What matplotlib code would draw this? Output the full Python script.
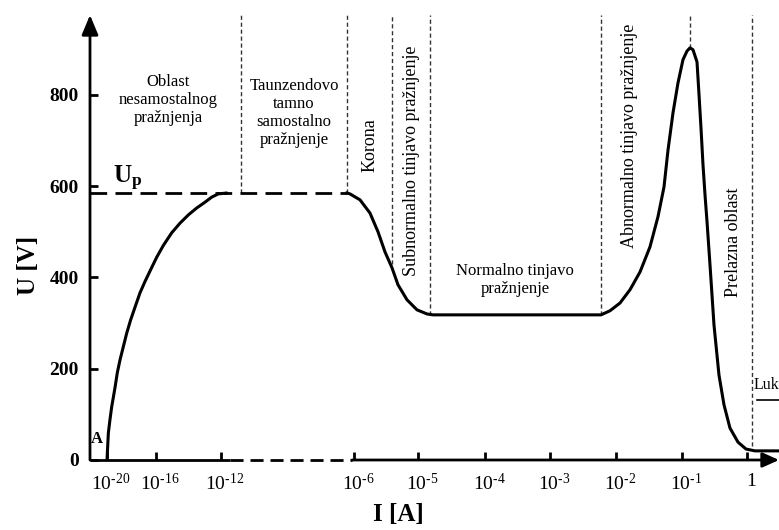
import numpy as np
import matplotlib
matplotlib.use("Agg")
import matplotlib.pyplot as plt
from matplotlib.transforms import ScaledTranslation

plt.rcParams['font.family'] = ['Liberation Serif', 'DejaVu Serif']
plt.rcParams['mathtext.fontset'] = 'custom'
plt.rcParams['mathtext.rm'] = 'Liberation Serif'
plt.rcParams['mathtext.it'] = 'Liberation Serif:italic'
plt.rcParams['mathtext.bf'] = 'Liberation Serif:bold'

# ---------------- data (x = log10 of current I [A], y = voltage U [V]) ----------------
rise_logI = [-20, -19.89, -19.76, -19.62, -19.35, -19.16, -18.94, -18.67, -18.39, -18.07,
             -17.71, -17.31, -16.90, -16.49, -15.96, -15.55, -15.03, -14.52, -14.01,
             -13.50, -12.98, -12.57, -12.17, -11.74]
rise_U = [0, 59, 88, 116, 158, 191, 219, 248, 278, 307,
          335, 366, 391, 414, 444, 470, 498, 519, 537,
          552, 565, 576, 583, 585]

glow_logI = [-6.32, -6.18, -5.906, -5.75, -5.625, -5.516, -5.406, -5.313, -5.172, -5.016,
             -4.866, -4.776, -3.5, -2.227, -2.091, -1.939, -1.788, -1.636, -1.485, -1.364,
             -1.273, -1.212, -1.136, -1.061, -0.985, -0.923, -0.877, -0.831, -0.769, -0.738,
             -0.708, -0.677, -0.646, -0.615, -0.569, -0.508, -0.431, -0.354, -0.262, -0.138,
             -0.015, 0.123, 0.492]
glow_U = [585, 583, 570, 541, 500, 456, 421, 384, 351, 329,
          320, 318, 318, 318, 327, 344, 373, 412, 467, 533,
          598, 679, 761, 826, 877, 896, 903, 899, 872, 800,
          728, 647, 581, 522, 427, 296, 186, 121, 70, 39,
          24, 20, 20]

U_p = 585
U_p_end_logI = -6.32

boundary_logI = [-11.10, -6.32, -5.41, -4.82, -2.23, -0.877, 0.077]
boundary_U = [585, 585, 430, 318, 318, 903, 30]

xtick_exp = [-20, -16, -12, -6, -5, -4, -3, -2, -1, 0]
xtick_labels = [r'$\mathregular{10}^{\text{-20}}$', r'$\mathregular{10}^{\text{-16}}$',
                r'$\mathregular{10}^{\text{-12}}$', r'$\mathregular{10}^{\text{-6}}$',
                r'$\mathregular{10}^{\text{-5}}$', r'$\mathregular{10}^{\text{-4}}$',
                r'$\mathregular{10}^{\text{-3}}$', r'$\mathregular{10}^{\text{-2}}$',
                r'$\mathregular{10}^{\text{-1}}$', '1']
yticks = [0, 200, 400, 600, 800]

# non-uniform (broken) current axis: knots of log10(I) -> relative axis position
KNOT_LOG = [-30, -20, -16, -12, -6, -5, -4, -3, -2, -1, 0, 5]
KNOT_POS = [-15.5, 107, 156, 221, 354, 418, 485, 550, 616, 682, 747, 1072]

def fwd(x):
    return np.interp(x, KNOT_LOG, KNOT_POS)

def inv(p):
    return np.interp(p, KNOT_POS, KNOT_LOG)

W, H = 779, 530
fig = plt.figure(figsize=(W / 100, H / 100), dpi=100)
ax = fig.add_axes([90 / W, 70 / H, 689 / W, 445 / H])
ax.set_xscale('function', functions=(fwd, inv))
xmin, xmax = float(inv(90)), float(inv(779))
ax.set_xlim(xmin, xmax)
ax.set_ylim(0, 975)

for s in ax.spines.values():
    s.set_visible(False)

# region boundaries
ax.vlines(boundary_logI, boundary_U, 975, colors='#333333', lw=1.0,
          linestyles=(0, (3, 2)), zorder=1)

# U_p dashed line
ax.plot([xmin, U_p_end_logI], [U_p, U_p], color='black', lw=2.0,
        ls=(0, (6, 3)), zorder=3, clip_on=False)

# curve
ax.plot(rise_logI, rise_U, color='black', lw=2.2, zorder=4, solid_capstyle='round',
        solid_joinstyle='round')
ax.plot(glow_logI, glow_U, color='black', lw=2.2, zorder=4, solid_joinstyle='round',
        clip_on=False)

# axes lines
ax.annotate('', xy=(0, 1), xycoords='axes fraction', xytext=(0, 0), textcoords='axes fraction',
            arrowprops=dict(arrowstyle='-|>,head_length=1.2,head_width=0.5', color='black',
                            lw=2, shrinkA=0, shrinkB=0), annotation_clip=False)
ax.plot([xmin, -11.6], [0, 0], color='black', lw=2, clip_on=False, solid_capstyle='butt', zorder=5)
ax.plot([-11.6, -6.09], [0, 0], color='black', lw=2, ls=(0, (4.7, 2.5)), clip_on=False, zorder=5)
ax.annotate('', xy=(1, 0), xycoords='axes fraction', xytext=(-6.09, 0), textcoords='data',
            arrowprops=dict(arrowstyle='-|>,head_length=1.0,head_width=0.45', color='black',
                            lw=2, shrinkA=0, shrinkB=0), annotation_clip=False)

# ticks
ax.set_xticks(xtick_exp)
ax.set_xticklabels(xtick_labels)
ax.set_yticks(yticks)
ax.set_yticklabels([str(v) for v in yticks])
ax.tick_params(axis='both', direction='in', width=2, length=6, color='black')
ax.tick_params(axis='x', labelsize=14, pad=9)
ax.tick_params(axis='y', labelsize=14, pad=8)
for lab in ax.get_yticklabels():
    lab.set_fontweight('bold')
off = ScaledTranslation(4 / 100, 0, fig.dpi_scale_trans)
for lab in ax.get_xticklabels():
    lab.set_transform(lab.get_transform() + off)

def P(x, y):
    return x / W, 1 - y / H

kw = dict(ha='center', va='center', color='black')
fig.text(*P(168, 100), 'Oblast\nnesamostalnog\npražnjenja', fontsize=12, linespacing=1.15, **kw)
fig.text(*P(294, 113), 'Taunzendovo\ntamno\nsamostalno\npražnjenje', fontsize=12, linespacing=1.15, **kw)
fig.text(*P(370, 145), 'Korona', fontsize=13, rotation=90, **kw)
fig.text(*P(412, 161), 'Subnormalno tinjavo pražnjenje', fontsize=13, rotation=90, **kw)
fig.text(*P(515, 280), 'Normalno tinjavo\npražnjenje', fontsize=12, linespacing=1.15, **kw)
fig.text(*P(630, 136), 'Abnormalno tinjavo pražnjenje', fontsize=13, rotation=90, **kw)
fig.text(*P(733, 242), 'Prelazna oblast', fontsize=13, rotation=90, **kw)
fig.text(*P(128, 178), r'$\mathbf{U}_{\mathbf{p}}$', fontsize=18, **kw)
fig.text(*P(97, 439), 'A', fontsize=12, fontweight='bold', **kw)
fig.text(*P(754, 385), 'Luk', fontsize=11.5, ha='left', va='center')
fig.add_artist(plt.Line2D([757 / W, 1.0], [1 - 400 / H, 1 - 400 / H], color='black', lw=1.2))
fig.text(*P(28, 265), 'U [V]', fontsize=18, fontweight='bold', rotation=90, **kw)
fig.text(*P(398, 515), 'I [A]', fontsize=18, fontweight='bold', **kw)

fig.savefig('out.png', dpi=100)
